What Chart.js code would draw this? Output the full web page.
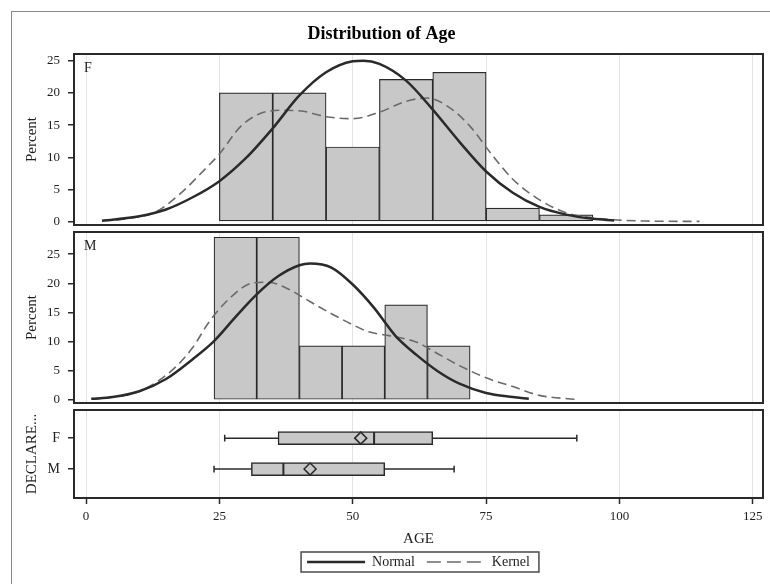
<!DOCTYPE html>
<html><head><meta charset="utf-8">
<script src="https://cdn.jsdelivr.net/npm/chart.js@4/dist/chart.umd.min.js"></script>
<style>
html,body{margin:0;padding:0;background:#fff;width:770px;height:584px;overflow:hidden;position:relative}
#frame{position:absolute;left:11px;top:11px;width:790px;height:600px;border-left:1px solid #8a8a8a;border-top:1px solid #8a8a8a}
canvas{position:absolute;left:0}
</style></head><body>
<div id="frame"></div>
<canvas id="cF" width="770" height="228" style="top:0"></canvas>
<canvas id="cM" width="770" height="178" style="top:228px"></canvas>
<canvas id="cB" width="770" height="178" style="top:406px"></canvas>
<script>
// ---------------- data ----------------
const xTicks = [0, 25, 50, 75, 100, 125];
const pctTicks = [0, 5, 10, 15, 20, 25];

// Gender F histogram (bin edges, percent per bin)
const fBinEdges = [25, 35, 45, 55, 65, 75, 85, 95];
const fPercent = [20.0, 20.0, 11.6, 22.1, 23.2, 2.1, 1.05];
const fNormalX = [3, 10, 15, 20, 25, 30, 35, 40, 45, 50, 52, 55, 60, 65, 70, 75, 80, 85, 90, 95, 99];
const fNormalY = [0.15, 0.85, 1.9, 3.8, 6.3, 9.9, 14.5, 19.6, 23.2, 24.9, 25.0, 24.5, 21.9, 17.4, 12.4, 7.8, 4.5, 2.3, 1.1, 0.45, 0.2];
const fKernelX = [3, 8, 13, 18, 22, 25, 29, 33, 37, 41, 45, 50, 55, 60, 64, 68, 72, 76, 80, 85, 90, 95, 100, 105, 115];
const fKernelY = [0.15, 0.5, 1.5, 4.6, 7.9, 10.5, 14.8, 16.9, 17.3, 17.1, 16.3, 16.0, 17.0, 18.7, 19.2, 17.8, 14.8, 10.5, 6.6, 3.4, 1.4, 0.6, 0.25, 0.1, 0.05];

// Gender M histogram
const mBinEdges = [24, 32, 40, 48, 56, 64, 72];
const mPercent = [27.9, 27.9, 9.3, 9.3, 16.3, 9.3];
const mNormalX = [1, 5, 10, 15, 20, 24, 28, 32, 36, 40, 42, 46, 50, 54, 58, 62, 66, 70, 75, 80, 83];
const mNormalY = [0.2, 0.5, 1.5, 3.6, 7.0, 10.1, 14.2, 18.1, 21.2, 23.1, 23.4, 22.7, 19.8, 15.8, 11.0, 7.7, 4.9, 2.8, 1.2, 0.5, 0.2];
const mKernelX = [1, 5, 10, 16, 20, 23, 27, 31, 34, 38, 41, 46, 50, 53, 57, 62, 66, 70, 75, 80, 85, 92];
const mKernelY = [0.2, 0.5, 1.5, 5.0, 9.0, 13.3, 17.5, 20.0, 20.2, 19.0, 17.4, 14.8, 12.9, 11.7, 11.0, 9.9, 7.9, 5.9, 3.8, 2.3, 0.8, 0.1];

// Box plot statistics by DECLARE...
const boxCats = ['F', 'M'];
const boxMin = [26, 24];
const boxQ1 = [36, 31];
const boxMedian = [54, 37];
const boxQ3 = [65, 56];
const boxMax = [92, 69];
const boxMean = [51.5, 42];

// ---------------- style ----------------
const FONT = '"Liberation Serif", "Times New Roman", serif';
const INK = '#2a2a2a', GRID = '#e3e3e3', FILL = '#c8c8c8', TXT = '#1e1e1e';
Chart.defaults.font.family = FONT;
Chart.defaults.color = TXT;
Chart.defaults.animation = false;
Chart.defaults.events = [];
Chart.defaults.plugins.tooltip.enabled = false;

const X_MIN = -2.25, X_MAX = 126.9;

const panelFrame = {
  id: 'panelFrame',
  afterDatasetsDraw(chart, args, opts) {
    const {ctx, chartArea: a} = chart;
    ctx.save();
    ctx.strokeStyle = INK; ctx.lineWidth = 2;
    ctx.strokeRect(a.left, a.top, a.right - a.left, a.bottom - a.top);
    if (opts.label) {
      ctx.fillStyle = TXT; ctx.font = '14px ' + FONT;
      ctx.textBaseline = 'top'; ctx.textAlign = 'left';
      ctx.fillText(opts.label, a.left + 10, a.top + 7);
    }
    ctx.restore();
  }
};
const legendFrame = {
  id: 'legendFrame',
  afterDraw(chart) {
    const lg = chart.legend;
    if (!lg || !lg.legendHitBoxes || !lg.legendHitBoxes.length) return;
    const hb = lg.legendHitBoxes, last = hb[hb.length - 1];
    const l = hb[0].left - 6, r = last.left + last.width + 9;
    const t = hb[0].top - 3, b = hb[0].top + hb[0].height + 3;
    const ctx = chart.ctx;
    ctx.save(); ctx.strokeStyle = '#4a4a4a'; ctx.lineWidth = 1.5;
    ctx.strokeRect(l, t, r - l, b - t); ctx.restore();
  }
};

function xScale(show) {
  return {
    type: 'linear', min: X_MIN, max: X_MAX, offset: false,
    afterBuildTicks: s => { s.ticks = xTicks.map(v => ({value: v})); },
    afterFit: s => { s.paddingLeft = 0; s.paddingRight = 0; s.height = show ? 45 : 0; },
    grid: {color: GRID, lineWidth: 1, drawTicks: show, tickLength: 6, tickColor: INK, tickWidth: 1.5, offset: false},
    border: {display: false},
    ticks: {display: show, padding: 5, font: {size: 13}, color: TXT, callback: v => String(v)},
    title: {display: show, text: 'AGE', font: {size: 15}, color: TXT, padding: {top: 0, bottom: -5}}
  };
}
function yAxisCommon(title) {
  return {
    offset: false,
    afterFit: s => { s.width = 74; s.paddingTop = 0; s.paddingBottom = 0; },
    grid: {drawOnChartArea: false, drawTicks: true, tickLength: 6, tickColor: INK, lineWidth: 1.5, offset: false},
    border: {display: false},
    title: {display: true, text: title, font: {size: 15}, color: TXT, padding: {top: 23.5, bottom: 0}}
  };
}
function pctScale(max) {
  return Object.assign(yAxisCommon('Percent'), {
    type: 'linear', min: -0.51, max: max,
    afterBuildTicks: s => { s.ticks = pctTicks.map(v => ({value: v})); },
    ticks: {padding: 8, font: {size: 13}, color: TXT, callback: v => String(v)}
  });
}
function pts(xs, ys) { return xs.map((x, i) => ({x: x, y: ys[i]})); }
function histBars(edges, pct) { return pct.map((p, i) => ({x: (edges[i] + edges[i + 1]) / 2, y: p})); }

function histConfig(edges, pct, nx, ny, kx, ky, yMax, label, padTop, padBottom, withTitle) {
  return {
    type: 'bar',
    data: {datasets: [
      {type: 'line', label: 'Normal', data: pts(nx, ny), borderColor: INK, borderWidth: 2.5,
       pointRadius: 0, tension: 0.4, cubicInterpolationMode: 'monotone', fill: false, order: 0},
      {type: 'line', label: 'Kernel', data: pts(kx, ky), borderColor: '#6a6a6a', borderWidth: 1.6,
       borderDash: [9, 5], pointRadius: 0, tension: 0.4, cubicInterpolationMode: 'monotone', fill: false, order: 1},
      {type: 'bar', label: 'Histogram', data: histBars(edges, pct), backgroundColor: FILL, borderColor: INK,
       borderWidth: 1.2, borderSkipped: false, barPercentage: 1, categoryPercentage: 1, order: 2}
    ]},
    options: {
      responsive: false, maintainAspectRatio: false,
      layout: {autoPadding: false, padding: {left: 0, right: 7, top: padTop, bottom: padBottom}},
      scales: {x: xScale(false), y: pctScale(yMax)},
      plugins: {
        legend: {display: false},
        title: {display: withTitle, text: 'Distribution of Age', color: '#000',
                font: {size: 18, weight: 'bold'}, padding: {top: 23.7, bottom: 8.7}},
        panelFrame: {label: label}
      }
    },
    plugins: [panelFrame]
  };
}

new Chart(document.getElementById('cF'),
  histConfig(fBinEdges, fPercent, fNormalX, fNormalY, fKernelX, fKernelY, 26.04, 'F', 0, 3, true));
new Chart(document.getElementById('cM'),
  histConfig(mBinEdges, mPercent, mNormalX, mNormalY, mKernelX, mKernelY, 28.8, 'M', 4, 3, false));

// ---------------- box plot panel ----------------
const boxDatasets = [];
boxDatasets.push({type: 'scatter', label: 'Mean', data: boxMean.map((m, i) => ({x: m, y: i + 1})),
  pointStyle: 'rectRot', pointRadius: 6, backgroundColor: FILL, borderColor: INK, borderWidth: 1.5, order: 0});
boxCats.forEach((c, i) => {
  const y = i + 1;
  const seg = (a, b, w) => ({type: 'line', data: [a, b], borderColor: INK, borderWidth: w || 1.5,
    pointRadius: 0, fill: false, order: 1});
  boxDatasets.push(seg({x: boxMedian[i], y: y - 0.2}, {x: boxMedian[i], y: y + 0.2}, 2));
  boxDatasets.push(seg({x: boxMin[i], y: y}, {x: boxQ1[i], y: y}));
  boxDatasets.push(seg({x: boxQ3[i], y: y}, {x: boxMax[i], y: y}));
  boxDatasets.push(seg({x: boxMin[i], y: y - 0.11}, {x: boxMin[i], y: y + 0.11}));
  boxDatasets.push(seg({x: boxMax[i], y: y - 0.11}, {x: boxMax[i], y: y + 0.11}));
});
boxDatasets.push({type: 'bar', indexAxis: 'y', label: 'Box',
  data: boxCats.map((c, i) => ({x: [boxQ1[i], boxQ3[i]], y: i + 1})),
  backgroundColor: FILL, borderColor: INK, borderWidth: 1.5, borderSkipped: false, barThickness: 13, order: 3});

new Chart(document.getElementById('cB'), {
  type: 'scatter',
  data: {datasets: boxDatasets},
  options: {
    responsive: false, maintainAspectRatio: false,
    layout: {autoPadding: false, padding: {left: 0, right: 7, top: 4, bottom: 5}},
    scales: {
      x: xScale(true),
      y: Object.assign(yAxisCommon('DECLARE...'), {
        type: 'linear', reverse: true, min: 0.09, max: 2.935,
        afterBuildTicks: s => { s.ticks = boxCats.map((c, i) => ({value: i + 1})); },
        ticks: {padding: 8, font: {size: 14}, color: TXT, callback: v => boxCats[Math.round(v) - 1]}
      })
    },
    plugins: {
      legend: {
        display: true, position: 'bottom', fullSize: false,
        labels: {
          usePointStyle: true, pointStyleWidth: 58, padding: 12, color: TXT, font: {size: 14},
          generateLabels: () => [
            {text: 'Normal', strokeStyle: INK, fillStyle: INK, lineWidth: 2.5, lineDash: [], pointStyle: 'line', hidden: false, fontColor: TXT},
            {text: 'Kernel', strokeStyle: '#6a6a6a', fillStyle: '#6a6a6a', lineWidth: 1.6, lineDash: [14, 6], pointStyle: 'line', hidden: false, fontColor: TXT}
          ]
        }
      },
      panelFrame: {label: ''}
    }
  },
  plugins: [panelFrame, legendFrame]
});
</script>
</body></html>
